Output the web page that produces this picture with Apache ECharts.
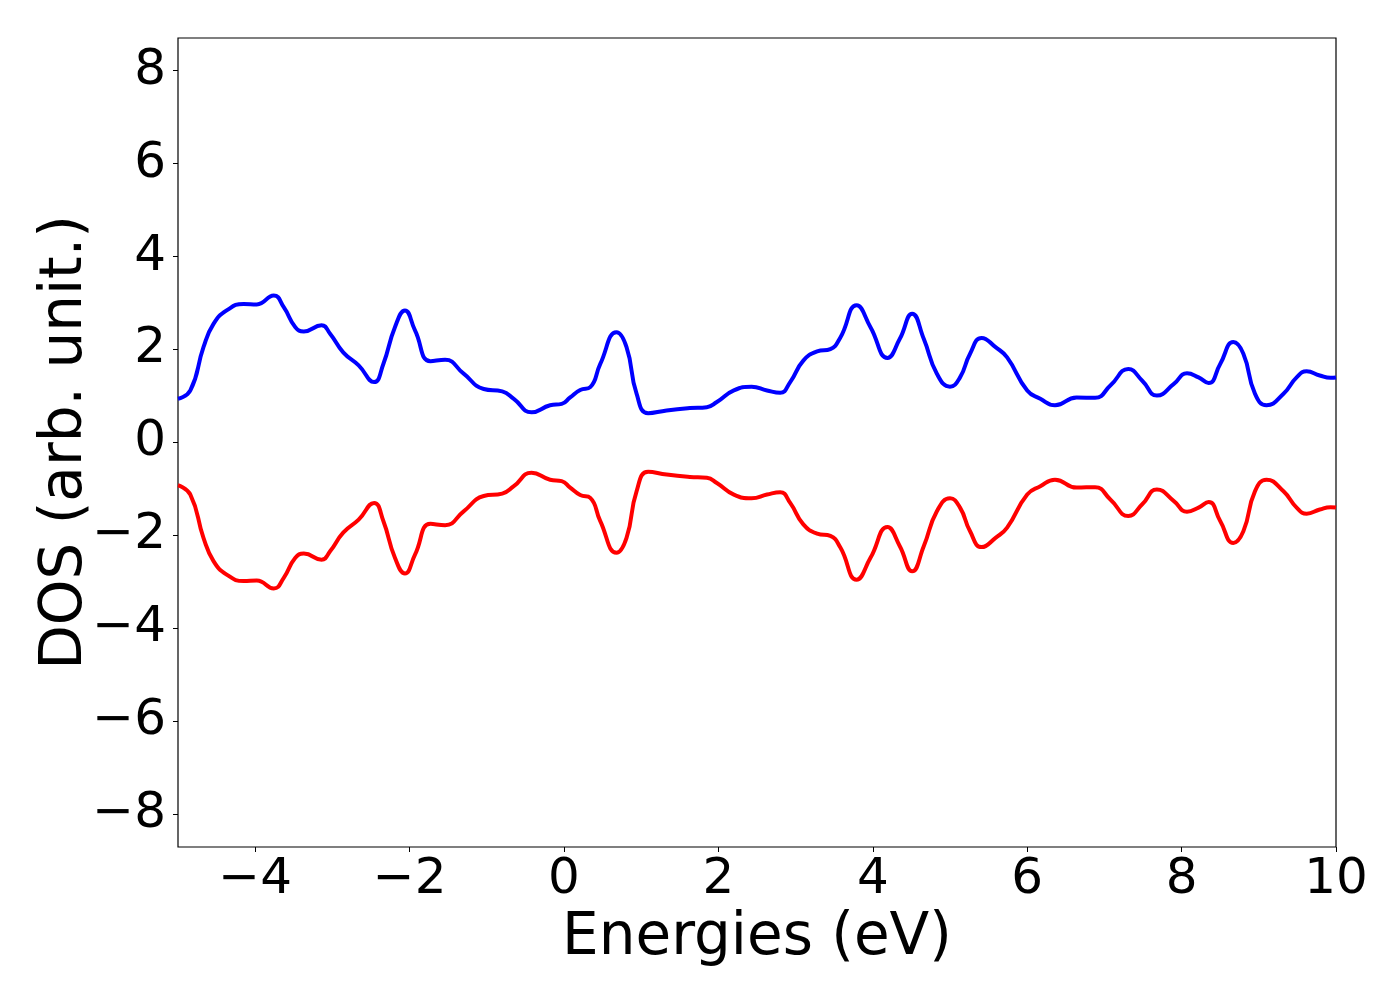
<!DOCTYPE html>
<html>
<head>
<meta charset="utf-8">
<script src="https://cdn.jsdelivr.net/npm/echarts@6/dist/echarts.min.js"></script>
<style>
  html, body { margin: 0; padding: 0; background: #fff; }
  #main { width: 1400px; height: 1000px; }
</style>
</head>
<body>
<div id="main"></div>
<script>
// energies (eV)
var energies = [-5.0, -4.84, -4.67, -4.54, -4.37, -4.15, -3.98, -3.76, -3.63, -3.48,
  -3.37, -3.14, -3.03, -2.86, -2.66, -2.46, -2.34, -2.19, -2.06, -1.93,
  -1.73, -1.54, -1.30, -1.04, -0.80, -0.65, -0.42, -0.18, -0.03, 0.08,
  0.21, 0.34, 0.47, 0.68, 0.81, 0.94, 1.09, 1.33, 1.63, 1.85,
  1.98, 2.20, 2.43, 2.63, 2.80, 2.93, 3.10, 3.28, 3.45, 3.58,
  3.79, 3.97, 4.19, 4.35, 4.51, 4.66, 4.83, 5.00, 5.13, 5.26,
  5.41, 5.59, 5.74, 6.00, 6.17, 6.36, 6.64, 6.88, 7.08, 7.31,
  7.49, 7.68, 7.90, 8.07, 8.22, 8.35, 8.50, 8.67, 8.80, 8.95,
  9.10, 9.32, 9.49, 9.62, 9.79, 9.93, 10.0];

// spin up DOS
var dosUp = [0.94, 1.12, 2.05, 2.55, 2.84, 2.98, 2.97, 3.16, 2.91, 2.48,
  2.39, 2.52, 2.34, 1.94, 1.66, 1.30, 1.69, 2.48, 2.84, 2.41,
  1.75, 1.78, 1.48, 1.15, 1.10, 0.94, 0.65, 0.80, 0.83, 0.97,
  1.13, 1.19, 1.69, 2.37, 2.05, 1.05, 0.63, 0.69, 0.74, 0.76,
  0.87, 1.12, 1.20, 1.12, 1.07, 1.30, 1.76, 1.96, 2.01, 2.26,
  2.95, 2.48, 1.82, 2.23, 2.77, 2.23, 1.48, 1.20, 1.40, 1.91,
  2.25, 2.05, 1.83, 1.12, 0.94, 0.80, 0.97, 0.96, 1.23, 1.58,
  1.33, 1.01, 1.26, 1.49, 1.40, 1.28, 1.69, 2.16, 1.91, 1.05,
  0.80, 1.05, 1.40, 1.53, 1.44, 1.39, 1.40];

// spin down DOS
var dosDown = [-0.92, -1.12, -2.05, -2.55, -2.84, -2.98, -2.97, -3.14, -2.91, -2.48,
  -2.39, -2.52, -2.34, -1.94, -1.66, -1.30, -1.69, -2.48, -2.82, -2.41,
  -1.75, -1.78, -1.48, -1.15, -1.10, -0.94, -0.65, -0.80, -0.83, -0.97,
  -1.13, -1.19, -1.69, -2.37, -2.05, -1.05, -0.63, -0.69, -0.74, -0.76,
  -0.87, -1.12, -1.20, -1.12, -1.07, -1.30, -1.76, -1.96, -2.01, -2.26,
  -2.95, -2.48, -1.82, -2.23, -2.77, -2.23, -1.48, -1.20, -1.40, -1.91,
  -2.25, -2.05, -1.83, -1.12, -0.94, -0.80, -0.97, -0.96, -1.23, -1.58,
  -1.33, -1.01, -1.26, -1.49, -1.40, -1.28, -1.69, -2.16, -1.91, -1.05,
  -0.80, -1.05, -1.40, -1.53, -1.44, -1.39, -1.40];

var xTicks = [-4, -2, 0, 2, 4, 6, 8, 10];
var yTicks = [-8, -6, -4, -2, 0, 2, 4, 6, 8];

function pairs(xs, ys) {
  var out = [];
  for (var i = 0; i < xs.length; i++) out.push([xs[i], ys[i]]);
  return out;
}
function minusFmt(v) {
  return v < 0 ? '\u2212' + (-v) : String(v);
}

var chart = echarts.init(document.getElementById('main'), null, { renderer: 'canvas' });
var font = 'DejaVu Sans';

chart.setOption({
  animation: false,
  backgroundColor: '#fff',
  grid: {
    left: 178, top: 38, width: 1158, height: 809,
    containLabel: false,
    outerBoundsMode: 'none',
    show: true, borderColor: '#000', borderWidth: 1.2,
    backgroundColor: 'transparent'
  },
  xAxis: {
    type: 'value',
    min: -5, max: 10,
    name: 'Energies (eV)',
    nameLocation: 'middle',
    nameGap: 56,
    nameTextStyle: { fontFamily: font, fontSize: 58, color: '#000' },
    axisLine: { show: false, onZero: false },
    axisTick: { show: true, length: 5, inside: false, customValues: xTicks, lineStyle: { color: '#000', width: 1 } },
    axisLabel: { customValues: xTicks, formatter: minusFmt, fontFamily: font, fontSize: 50, color: '#000', margin: 8 },
    splitLine: { show: false }
  },
  yAxis: {
    type: 'value',
    min: -8.7, max: 8.7,
    name: 'DOS (arb. unit.)',
    nameLocation: 'middle',
    nameGap: 83,
    nameRotate: 90,
    nameMoveOverlap: false,
    nameTextStyle: { fontFamily: font, fontSize: 58, color: '#000' },
    axisLine: { show: false, onZero: false },
    axisTick: { show: true, length: 5, inside: false, customValues: yTicks, lineStyle: { color: '#000', width: 1 } },
    axisLabel: { customValues: yTicks, formatter: minusFmt, fontFamily: font, fontSize: 50, color: '#000', margin: 12 },
    splitLine: { show: false }
  },
  series: [
    {
      name: 'up', type: 'line', data: pairs(energies, dosUp),
      smooth: 0.5, showSymbol: false, symbol: 'none',
      lineStyle: { color: '#0000ff', width: 4 }
    },
    {
      name: 'down', type: 'line', data: pairs(energies, dosDown),
      smooth: 0.5, showSymbol: false, symbol: 'none',
      lineStyle: { color: '#ff0000', width: 4 }
    }
  ]
});
</script>
</body>
</html>
